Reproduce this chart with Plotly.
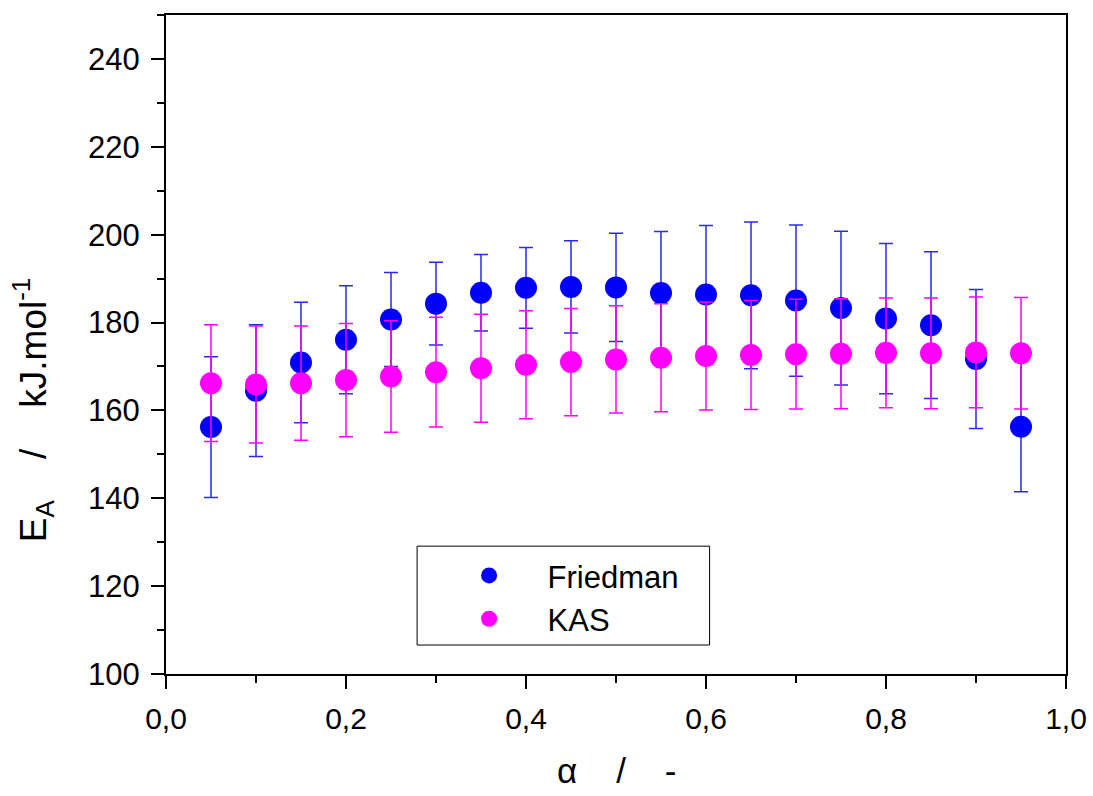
import plotly.graph_objects as go

# conversion degree alpha
alpha = [0.05, 0.10, 0.15, 0.20, 0.25, 0.30, 0.35, 0.40, 0.45, 0.50,
         0.55, 0.60, 0.65, 0.70, 0.75, 0.80, 0.85, 0.90, 0.95]

# activation energy, Friedman method (kJ/mol) and its uncertainty
ea_friedman = [156.2, 164.5, 170.9, 176.1, 180.7, 184.3, 186.8, 187.9, 188.1, 188.0,
               186.7, 186.4, 186.2, 185.0, 183.3, 180.9, 179.4, 171.7, 156.3]
err_friedman = [16.0, 15.0, 13.7, 12.3, 10.7, 9.4, 8.7, 9.2, 10.5, 12.3,
                14.0, 15.7, 16.7, 17.2, 17.5, 17.1, 16.7, 15.8, 14.8]

# activation energy, KAS method (kJ/mol) and its uncertainty
ea_kas = [166.2, 165.9, 166.2, 166.9, 167.7, 168.7, 169.6, 170.4, 171.0, 171.6,
          172.0, 172.4, 172.6, 172.8, 172.9, 173.1, 173.0, 173.2, 173.0]
err_kas = [13.3, 13.3, 13.0, 12.9, 12.7, 12.5, 12.3, 12.3, 12.2, 12.2,
           12.3, 12.3, 12.4, 12.5, 12.5, 12.5, 12.6, 12.6, 12.7]

x_ticks = [0.0, 0.2, 0.4, 0.6, 0.8, 1.0]
x_ticklabels = ["0,0", "0,2", "0,4", "0,6", "0,8", "1,0"]
x_minor = [0.1, 0.3, 0.5, 0.7, 0.9]
y_ticks = [100, 120, 140, 160, 180, 200, 220, 240]

BLUE = "#0000FF"
BAR_BLUE = "#2a2ae8"
MAGENTA = "#FF00FF"
FONT = "Liberation Sans, Arial, sans-serif"

fig = go.Figure()

fig.add_trace(go.Scatter(
    x=alpha, y=ea_friedman, mode="markers", name="Friedman",
    marker=dict(color=BLUE, size=22, line=dict(width=0)),
    error_y=dict(type="data", array=err_friedman, visible=True,
                 color=BAR_BLUE, thickness=1.5, width=7),
))
fig.add_trace(go.Scatter(
    x=alpha, y=ea_kas, mode="markers", name="KAS",
    marker=dict(color=MAGENTA, size=22, line=dict(width=0)),
    error_y=dict(type="data", array=err_kas, visible=True,
                 color=MAGENTA, thickness=1.5, width=7),
))

# legend frame
fig.add_shape(
    type="rect", xref="paper", yref="paper",
    x0=0.279, x1=0.604, y0=0.044, y1=0.194,
    line=dict(color="black", width=1), fillcolor="white", layer="above",
)

# y-axis title, placed below the vertical centre of the axis
fig.add_annotation(
    text="E<sub>A</sub>    /    kJ.mol<sup>-1</sup>",
    xref="paper", yref="paper", x=-0.148, y=0.40,
    xanchor="center", yanchor="middle", textangle=-90, showarrow=False,
    font=dict(family=FONT, size=37, color="black"),
)

# x-axis title, set close to the bottom edge
fig.add_annotation(
    text="\u03b1    /    -",
    xref="paper", yref="paper", x=0.5, y=-0.147,
    xanchor="center", yanchor="middle", showarrow=False,
    font=dict(family=FONT, size=35, color="black"),
)

fig.update_layout(
    width=1093, height=796,
    margin=dict(l=166, r=27, t=15, b=122),
    paper_bgcolor="white", plot_bgcolor="white",
    font=dict(family=FONT, color="black"),
    showlegend=True,
    legend=dict(
        x=0.294, y=0.19, xanchor="left", yanchor="top",
        bgcolor="rgba(0,0,0,0)", borderwidth=0,
        font=dict(family=FONT, size=31, color="black"),
        itemsizing="trace", itemwidth=107, tracegroupgap=0,
    ),
)

fig.update_xaxes(
    range=[0, 1.0], tickvals=x_ticks, ticktext=x_ticklabels,
    tickfont=dict(family=FONT, size=30),
    ticks="outside", ticklen=13, tickwidth=2, tickcolor="black",
    ticklabelstandoff=4, automargin=False,
    minor=dict(tickvals=x_minor, ticks="outside",
               ticklen=7, tickwidth=2, tickcolor="black"),
    showline=True, linecolor="black", linewidth=2, mirror=True,
    showgrid=False, zeroline=False,
)
fig.update_yaxes(
    range=[100, 250], tickvals=y_ticks,
    tickfont=dict(family=FONT, size=31),
    ticks="outside", ticklen=13, tickwidth=2, tickcolor="black",
    ticklabelstandoff=5, automargin=False,
    minor=dict(dtick=10, tick0=100, ticks="outside",
               ticklen=7, tickwidth=2, tickcolor="black"),
    showline=True, linecolor="black", linewidth=2, mirror=True,
    showgrid=False, zeroline=False,
)

fig.write_html("out.html")
